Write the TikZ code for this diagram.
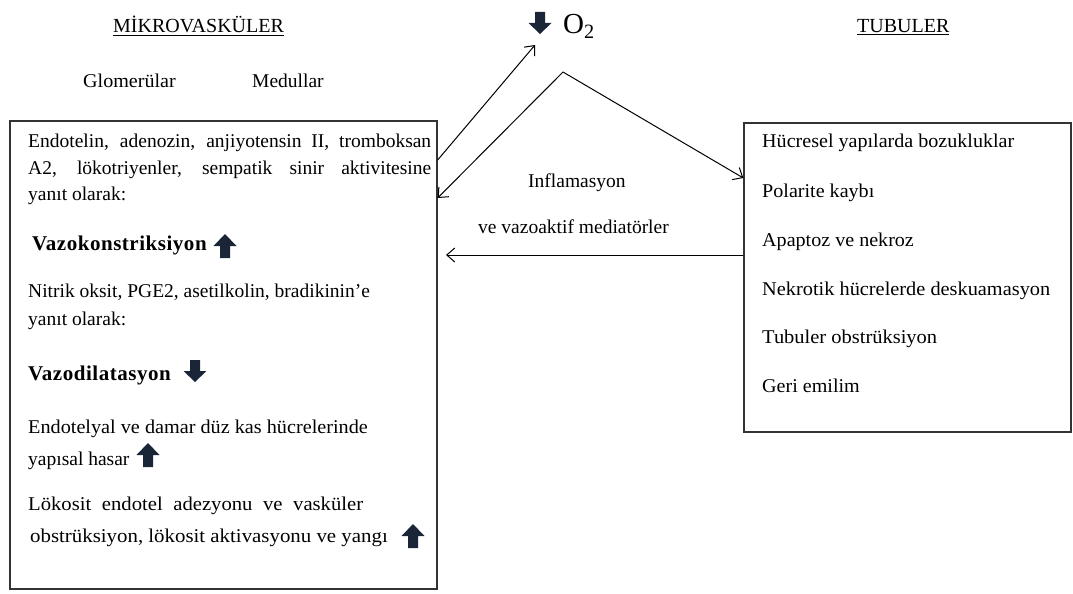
\documentclass[tikz,border=0pt]{standalone}
\usepackage{fontspec}
\usepackage{graphicx}
\setmainfont{Liberation Serif}
\usetikzlibrary{arrows.meta}
\definecolor{navy}{HTML}{1B2538}
\definecolor{boxline}{HTML}{333333}
\newcommand\hsc[2]{\scalebox{#1}[1]{#2}}
\tikzset{
  txt/.style={anchor=base west, inner sep=0pt, font=\fontsize{19.5}{26.5}\selectfont},
  bold/.style={txt, font=\fontsize{21}{26}\selectfont\bfseries\addfontfeatures{LetterSpace=2.5}},
  head/.style={txt, font=\fontsize{20}{24}\selectfont},
  panel/.style={draw=boxline, line width=1.3pt, inner sep=0pt},
  conn/.style={line width=1pt, -{Straight Barb[length=8pt,width=14pt,line width=1pt]}},
  uparr/.pic={\fill[navy] (-5,0) -- (-5,-12) -- (-11.5,-12) -- (0,-24) -- (11.5,-12) -- (5,-12) -- (5,0) -- cycle;},
  dnarr/.pic={\fill[navy] (-5,0) -- (-5,11) -- (-11.5,11) -- (0,22) -- (11.5,11) -- (5,11) -- (5,0) -- cycle;}
}
\begin{document}
\begin{tikzpicture}[x=1pt,y=-1pt]
\useasboundingbox (0,0) rectangle (1073,594);
% headings
\node[head] (mik) at (113,33) {\underline{MİKROVASKÜLER}};
\node[head] (tub) at (857,33) {\underline{TUBULER}};
\node[txt] (glo) at (83,88) {\hsc{1.03}{Glomerülar}};
\node[txt] (med) at (252,88) {Medullar};
% O2
\pic at (540,12) {dnarr};
\node[anchor=base west, inner sep=0pt, font=\fontsize{29}{32}\selectfont] (O2) at (563,34) {O\textsubscript{2}};
% boxes
\node[panel, minimum width=427pt, minimum height=468pt] (L) at (223.5,355) {};
\node[panel, minimum width=327pt, minimum height=309pt] (R) at (907.5,277.5) {};
% left box text
\node[txt, anchor=north west, text width=403pt, align=justify] (l1) at (28,134)
  {Endotelin, adenozin, anjiyotensin II, tromboksan\linebreak A2, lökotriyenler, sempatik sinir aktivitesine\linebreak yanıt olarak:};
\node[bold] (vk) at (32,250) {Vazokonstriksiyon};
\pic at (225,258) {uparr};
\node[txt] (n1) at (28,297) {Nitrik oksit, PGE2, asetilkolin, bradikinin’e};
\node[txt] (n2) at (28,325) {yanıt olarak:};
\node[bold] (vd) at (28,380) {Vazodilatasyon};
\pic at (195,360) {dnarr};
\node[txt] (e1) at (28,433) {\hsc{1.037}{Endotelyal ve damar düz kas hücrelerinde}};
\node[txt] (e2) at (28,465) {yapısal hasar};
\pic at (148,467) {uparr};
\node[txt] (k1) at (28,510) {\hsc{1.06}{\makebox[316pt][s]{Lökosit endotel adezyonu ve vasküler}}};
\node[txt] (k2) at (30,542) {\hsc{1.07}{obstrüksiyon, lökosit aktivasyonu ve yangı}};
\pic at (413,548) {uparr};
% right box text
\node[txt] (r1) at (762,147) {\hsc{1.03}{Hücresel yapılarda bozukluklar}};
\node[txt] (r2) at (762,197) {\hsc{1.03}{Polarite kaybı}};
\node[txt] (r3) at (762,246) {\hsc{1.03}{Apaptoz ve nekroz}};
\node[txt] (r4) at (762,295) {\hsc{1.043}{Nekrotik hücrelerde deskuamasyon}};
\node[txt] (r5) at (762,343) {\hsc{1.05}{Tubuler obstrüksiyon}};
\node[txt] (r6) at (762,392) {\hsc{1.03}{Geri emilim}};
% middle labels
\node[txt] (inf) at (528,187) {Inflamasyon};
\node[txt] (vaz) at (478,233) {ve vazoaktif mediatörler};
% connectors
\coordinate (apex) at (563,72);
\coordinate (o2tip) at (535,45);
\coordinate (lfrom) at (L.north east |- 0,160);
\coordinate (lto) at (L.north east |- 0,198);
\coordinate (rto) at (R.north west |- 0,178);
\coordinate (rfrom) at (R.north west |- 0,255);
\coordinate (lhz) at (446,255);
\draw[conn] (lfrom) -- (o2tip);
\draw[conn] (apex) -- (lto);
\draw[conn] (apex) -- (rto);
\draw[conn] (rfrom) -- (lhz);
\end{tikzpicture}
\end{document}
